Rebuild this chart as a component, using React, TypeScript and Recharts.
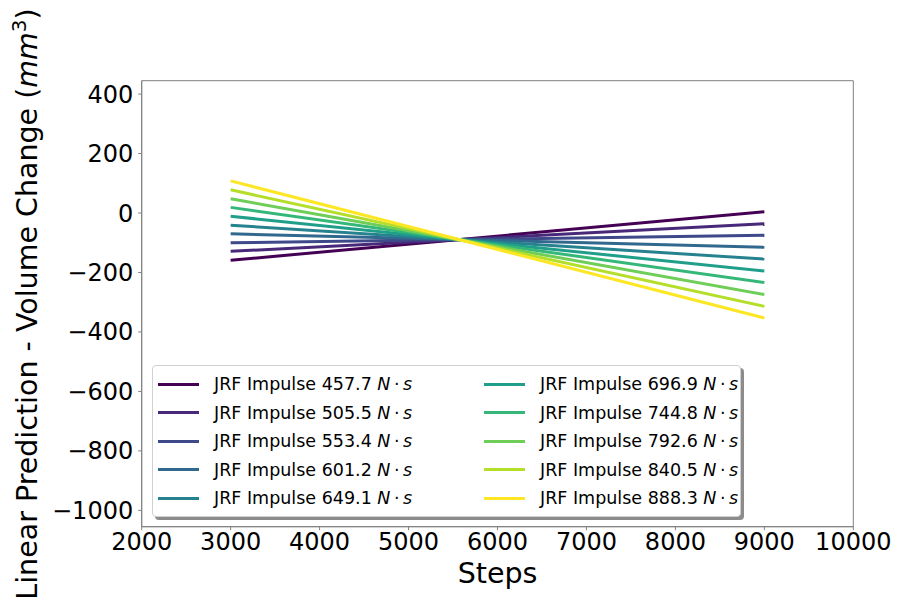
import React from 'react';
import { LineChart, Line, XAxis, YAxis, ReferenceArea, Legend } from 'recharts';

// Training steps at which each linear prediction is evaluated
const steps = [3000, 9000];

// JRF impulse (N·s) for each prediction line
const impulses = ['457.7', '505.5', '553.4', '601.2', '649.1', '696.9', '744.8', '792.6', '840.5', '888.3'];

// Predicted volume change (mm³) at the first and last step, per impulse
const startValues = [-159, -129, -100, -70, -41, -11, 19, 48, 78, 108];
const endValues = [4, -36, -75, -115, -155, -195, -234, -274, -314, -353];

// Viridis colormap, sampled at 10 evenly spaced points
const colors = ['#440154', '#482878', '#3e4989', '#31688e', '#26828e', '#1f9e89', '#35b779', '#6ece58', '#b5de2b', '#fde725'];

const xTicks = [2000, 3000, 4000, 5000, 6000, 7000, 8000, 9000, 10000];
const yTicks = [-1000, -800, -600, -400, -200, 0, 200, 400];
const xDomain: [number, number] = [2000, 10000];
const yDomain: [number, number] = [-1055, 445];

const data = steps.map((step, si) => {
  const row: Record<string, number> = { step };
  impulses.forEach((_, i) => {
    row['s' + i] = si === 0 ? startValues[i] : endValues[i];
  });
  return row;
});

const FONT = 'DejaVu Sans, sans-serif';
const SPINE = '#808080';
const TICK_FONT = 24;
const LABEL_FONT = 28.5;
const LEGEND_FONT = 17.5;

const fmt = (v: number) => (v < 0 ? '\u2212' + Math.abs(v) : String(v));

const LegendBox = () => {
  const rows = 5;
  const col = (start: number, left: number) => (
    <div style={{ position: 'absolute', left, top: 4 }}>
      {impulses.slice(start, start + rows).map((imp, k) => {
        const i = start + k;
        return (
          <div key={i} style={{ position: 'relative', height: 28.5, width: 250 }}>
            <div
              style={{
                position: 'absolute',
                left: 0,
                top: 12.75,
                width: 41,
                height: 3,
                background: colors[i],
              }}
            />
            <div
              style={{
                position: 'absolute',
                left: 56,
                top: 0,
                lineHeight: '28.5px',
                fontSize: LEGEND_FONT,
                fontFamily: FONT,
                color: '#000',
                whiteSpace: 'nowrap',
              }}
            >
              JRF Impulse {imp} <i>N</i>
              {'\u2009\u00b7\u2009'}
              <i>s</i>
            </div>
          </div>
        );
      })}
    </div>
  );
  return (
    <div
      style={{
        position: 'relative',
        width: 589,
        height: 152,
        boxSizing: 'border-box',
        border: '1px solid #d0d0d0',
        borderRadius: 4,
        background: '#fff',
        boxShadow: '3px 3px 0 rgba(0,0,0,0.45)',
      }}
    >
      {col(0, 5)}
      {col(5, 331)}
    </div>
  );
};

const YLabel = () => (
  <text
    transform="rotate(-90)"
    x={-304}
    y={37}
    textAnchor="middle"
    fontSize={LABEL_FONT}
    fontFamily={FONT}
    fill="#000"
  >
    Linear Prediction - Volume Change (<tspan fontStyle="italic">mm</tspan>
    <tspan dy={-11} fontSize={20}>3</tspan>
    <tspan dy={11}>)</tspan>
  </text>
);

export default function App() {
  return (
    <div style={{ position: 'absolute', left: 0, top: 0, width: 897, height: 600, background: '#fff' }}>
      <LineChart
        width={897}
        height={600}
        data={data}
        margin={{ top: 80.7, right: 43.7, bottom: 43.3, left: 81.7 }}
      >
        <XAxis
          dataKey="step"
          type="number"
          domain={xDomain}
          ticks={xTicks}
          allowDataOverflow
          height={30}
          tickSize={3.5}
          tickMargin={3}
          axisLine={{ stroke: SPINE }}
          tickLine={{ stroke: SPINE }}
          tick={{ fontSize: TICK_FONT, fontFamily: FONT, fill: '#000' }}
          interval={0}
        />
        <YAxis
          type="number"
          domain={yDomain}
          ticks={yTicks}
          allowDataOverflow
          width={60}
          tickSize={3.5}
          tickMargin={5}
          tickFormatter={fmt}
          axisLine={{ stroke: SPINE }}
          tickLine={{ stroke: SPINE }}
          tick={{ fontSize: TICK_FONT, fontFamily: FONT, fill: '#000' }}
          interval={0}
        />
        <ReferenceArea
          x1={xDomain[0]}
          x2={xDomain[1]}
          y1={yDomain[0]}
          y2={yDomain[1]}
          fill="none"
          stroke={SPINE}
          strokeWidth={1}
          ifOverflow="visible"
        />
        {impulses.map((imp, i) => (
          <Line
            key={imp}
            dataKey={'s' + i}
            name={`JRF Impulse ${imp} N·s`}
            stroke={colors[i]}
            strokeWidth={3}
            dot={false}
            isAnimationActive={false}
          />
        ))}
        <Legend
          layout="horizontal"
          verticalAlign="middle"
          align="center"
          wrapperStyle={{ position: 'absolute', left: 152, top: 365, width: 589, height: 152 }}
          content={() => <LegendBox />}
        />
        <YLabel />
        <text x={497.5} y={583} textAnchor="middle" fontSize={LABEL_FONT} fontFamily={FONT} fill="#000">
          Steps
        </text>
      </LineChart>
    </div>
  );
}
